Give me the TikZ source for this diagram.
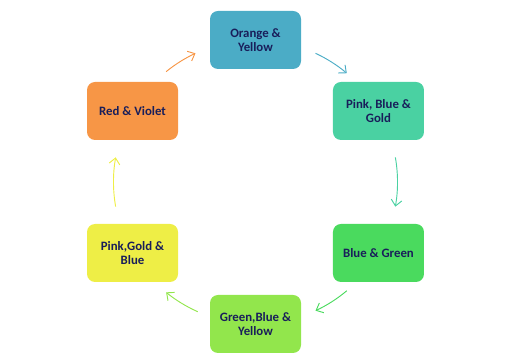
\documentclass[tikz,border=0pt]{standalone}
\usepackage{fontspec}
\setmainfont{Carlito}
\usetikzlibrary{positioning,calc,arrows.meta}

\definecolor{boxAqua}{RGB}{75,172,198}
\definecolor{boxTeal}{RGB}{74,209,162}
\definecolor{boxGreen}{RGB}{74,218,94}
\definecolor{boxLime}{RGB}{146,230,76}
\definecolor{boxYellow}{RGB}{238,238,70}
\definecolor{boxOrange}{RGB}{247,150,70}
\definecolor{labelNavy}{RGB}{25,30,90}

\tikzset{
  colorbox/.style={rectangle, rounded corners=6pt, minimum width=68.25pt, minimum height=43.5pt,
    align=center, text=labelNavy, font=\fontsize{9.6}{10}\selectfont\bfseries},
  ringarrow/.style={line width=0.7pt, -{Straight Barb[length=4.5pt,width=8pt]}},
}

\begin{document}
\begin{tikzpicture}[x=0.75pt, y=0.75pt]
  \useasboundingbox (0,0) rectangle (517,359);
  \coordinate (c) at (255.5,177);

  % Boxes on the ring
  \node[colorbox, fill=boxAqua] (orangeyellow) at ($(c)+(90:142)$) {Orange \&\\Yellow};
  \node[colorbox, fill=boxTeal] (pinkbluegold) at ($(c)+(30:142)$) {Pink, Blue \&\\Gold};
  \node[colorbox, fill=boxGreen] (bluegreen) at ($(c)+(-30:142)$) {Blue \& Green};
  \node[colorbox, fill=boxLime] (greenblueyellow) at ($(c)+(-90:142)$) {Green,Blue \&\\Yellow};
  \node[colorbox, fill=boxYellow] (pinkgoldblue) at ($(c)+(210:142)$) {Pink,Gold \&\\Blue};
  \node[colorbox, fill=boxOrange] (redviolet) at ($(c)+(150:142)$) {Red \& Violet};

  % Arrows round the ring
  \draw[ringarrow, boxAqua] ($(c)+(65:142)$) arc[start angle=65, end angle=50, radius=142];
  \draw[ringarrow, boxTeal] ($(c)+(10:142)$) arc[start angle=10, end angle=-10, radius=142];
  \draw[ringarrow, boxGreen] ($(c)+(-50:142)$) arc[start angle=-50, end angle=-65, radius=142];
  \draw[ringarrow, boxLime] ($(c)+(246:142)$) arc[start angle=246, end angle=231, radius=142];
  \draw[ringarrow, boxYellow] ($(c)+(190:142)$) arc[start angle=190, end angle=170, radius=142];
  \draw[ringarrow, boxOrange] ($(c)+(129:142)$) arc[start angle=129, end angle=115, radius=142];
\end{tikzpicture}
\end{document}
